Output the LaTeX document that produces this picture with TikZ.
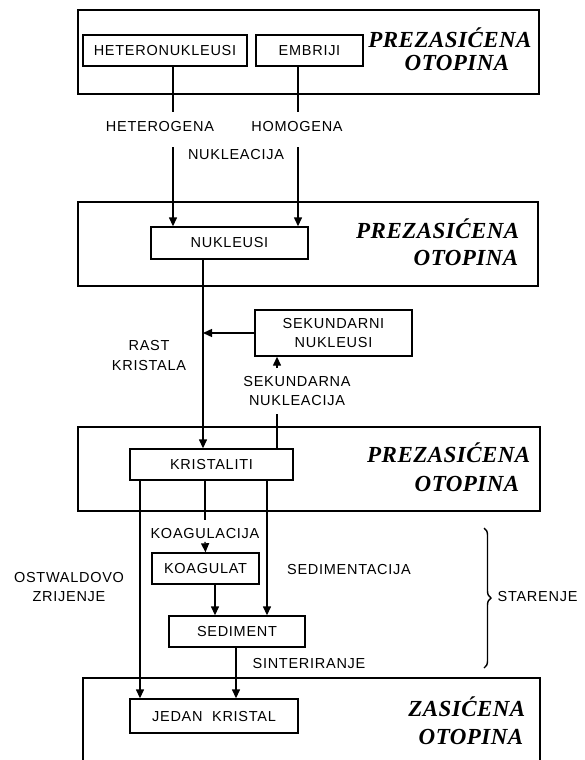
\documentclass[tikz,border=0pt]{standalone}
\usepackage{fontspec}
\newfontfamily\labfont[LetterSpace=5]{Liberation Sans}
\newfontfamily\solfont[LetterSpace=2]{Liberation Serif}
\usepackage{tikz}
\usetikzlibrary{arrows.meta,decorations.pathreplacing}
\tikzset{box/.style={draw, inner sep=0pt, minimum height=31pt,
  font=\labfont\fontsize{14.5}{19}\selectfont}}
\tikzset{lab/.style={inner sep=2pt, align=center,
  font=\labfont\fontsize{14.5}{19.5}\selectfont}}
\tikzset{sol/.style={inner sep=0pt,
  font=\solfont\bfseries\itshape\fontsize{23}{26}\selectfont}}
\tikzset{arr/.style={-{Triangle[length=9pt,width=8pt]}}}

\begin{document}
\begin{tikzpicture}[x=1pt, y=-1pt, line width=1.4pt]
\useasboundingbox (0,0) rectangle (584,760);

\draw (78,10) rectangle (539,94);
\node [sol] (sol1a) at (450,38) {PREZASIĆENA};
\node [sol] (sol1b) at (457,63) {OTOPINA};
\node [box, minimum width=164pt] (hetero) at (165,50.5) {HETERONUKLEUSI};
\node [box, minimum width=107pt] (embr) at (309.5,50.5) {EMBRIJI};
\node [lab] (hetlab) at (160,127) {HETEROGENA};
\node [lab] (homlab) at (297,127) {HOMOGENA};
\node [lab] (nuklab) at (236,155) {NUKLEACIJA};
\coordinate (ha) at (173,112);
\coordinate (hb) at (173,147);
\coordinate (ea) at (298,112);
\coordinate (eb) at (298,147);
\draw (hetero.south -| ha) -- (ha);
\draw (embr.south -| ea) -- (ea);

\draw (78,202) rectangle (538,286);
\node [sol, anchor=east] (sol2a) at (520,229) {PREZASIĆENA};
\node [sol, anchor=east] (sol2b) at (519,258) {OTOPINA};
\node [box, minimum width=157pt, minimum height=32pt] (nukl) at (229.5,243) {NUKLEUSI};
\draw [arr] (hb) -- (nukl.north -| hb);
\draw [arr] (eb) -- (nukl.north -| eb);

\node [box, minimum width=157pt, minimum height=46pt, align=center] (sek) at (333.5,333) {SEKUNDARNI\\NUKLEUSI};
\node [lab] (rast) at (149,355.5) {RAST\\KRISTALA};
\node [lab] (seknuk) at (297,391) {SEKUNDARNA\\NUKLEACIJA};
\coordinate (xm) at (203,0);
\coordinate (sa) at (277,368);
\coordinate (sb) at (277,414);

\draw (78,427) rectangle (540,511);
\node [sol, anchor=east] (sol3a) at (531,453) {PREZASIĆENA};
\node [sol, anchor=east] (sol3b) at (520,484) {OTOPINA};
\node [box, minimum width=163pt] (kris) at (211.5,464.5) {KRISTALITI};
\draw [arr] (nukl.south -| xm) -- (kris.north -| xm);
\draw [arr] (sek.west) -- (sek.west -| xm);
\draw [arr] (sa) -- (sek.south -| sa);
\draw (kris.north -| sb) -- (sb);

\node [lab] (koaglab) at (205,534) {KOAGULACIJA};
\node [box, minimum width=107pt] (koag) at (205.5,568.5) {KOAGULAT};
\node [lab] (sedlab) at (349,570) {SEDIMENTACIJA};
\node [lab] (ostlab) at (69,587) {OSTWALDOVO\\ZRIJENJE};
\node [box, minimum width=136pt] (sed) at (237,631.5) {SEDIMENT};
\node [lab] (sinlab) at (309,664) {SINTERIRANJE};
\coordinate (xo) at (140,0);
\coordinate (ka) at (205,520);
\coordinate (xd) at (267,0);
\coordinate (xk) at (215,0);
\coordinate (xj) at (236,0);
\draw (kris.south -| ka) -- (ka);
\draw [arr] (koaglab.south) -- (koag.north);
\draw [arr] (kris.south -| xd) -- (sed.north -| xd);
\draw [arr] (koag.south -| xk) -- (sed.north -| xk);

\draw (83,770) |- (540,678) -- (540,770);
\node [sol, anchor=east] (sol4a) at (526,707) {ZASIĆENA};
\node [sol, anchor=east] (sol4b) at (524,737) {OTOPINA};
\node [box, minimum width=168pt, minimum height=34pt] (jed) at (214,716) {JEDAN\ \ KRISTAL};
\draw [arr] (kris.south -| xo) -- (jed.north -| xo);
\draw [arr] (sed.south -| xj) -- (jed.north -| xj);

\coordinate (ba) at (484,528);
\coordinate (bb) at (484,668);
\draw [decorate, decoration={brace, amplitude=7pt}] (ba) -- (bb);
\node [lab, anchor=west] (starlab) at (495,597) {STARENJE};
\end{tikzpicture}
\end{document}
